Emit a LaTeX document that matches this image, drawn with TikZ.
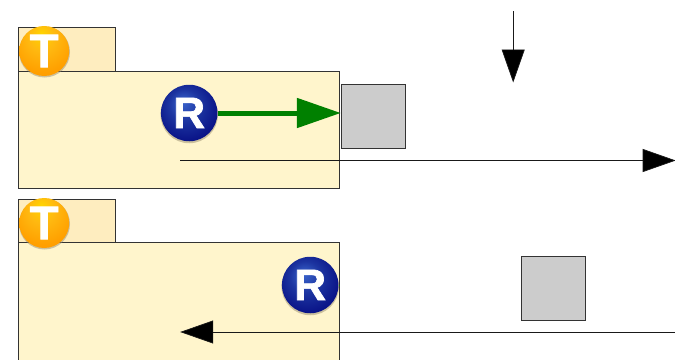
\documentclass[tikz,border=0pt]{standalone}
\usepackage{fontspec}
\setmainfont{Liberation Sans}
\newfontfamily\ballfont[FakeBold=1.6]{Liberation Sans Bold}
\usetikzlibrary{arrows.meta}
\definecolor{bodyfill}{HTML}{FFF5CC}
\definecolor{tabfill}{HTML}{FEEDBF}
\definecolor{boxgrey}{HTML}{CCCCCC}
\definecolor{arrowgreen}{HTML}{008000}
\definecolor{tballa}{HTML}{FFD400}
\definecolor{tballb}{HTML}{FFB810}
\definecolor{tballc}{HTML}{FFA000}
\definecolor{tballd}{HTML}{FF9200}
\definecolor{tballe}{HTML}{EE8400}
\definecolor{rballa}{HTML}{3A64CC}
\definecolor{rballb}{HTML}{1C34A0}
\definecolor{rballc}{HTML}{0A1488}
\definecolor{rballd}{HTML}{000878}
\definecolor{ballshadow}{HTML}{9A8F70}
\pgfdeclareradialshading{tballshade}{\pgfpoint{-3bp}{18bp}}{
  color(0bp)=(tballa);
  color(14bp)=(tballb);
  color(30bp)=(tballc);
  color(46bp)=(tballd);
  color(60bp)=(tballe)}
\pgfdeclareradialshading{rballshade}{\pgfpoint{-6bp}{10bp}}{
  color(0bp)=(rballa);
  color(14bp)=(rballb);
  color(28bp)=(rballc);
  color(46bp)=(rballd)}
\tikzset{
  x=1pt,y=-1pt,
  panelbody/.style={draw=black!80,line width=.7pt,fill=bodyfill},
  paneltab/.style={draw=black!80,line width=.7pt,fill=tabfill},
  greybox/.style={draw=black!80,line width=.7pt,fill=boxgrey},
  tball/.style={circle,inner sep=0pt,minimum size=50pt,shading=tballshade,text=white,font=\fontsize{47}{47}\ballfont},
  rball/.style={circle,inner sep=0pt,minimum size=56.5pt,shading=rballshade,text=white,font=\fontsize{44}{44}\ballfont},
  shadowdisc/.style={fill=ballshadow,opacity=.5,circle,inner sep=0pt},
  thinarrow/.style={draw=black!90,line width=.7pt,-{Triangle[length=33pt,width=23pt,fill=black]}},
  greenarrow/.style={draw=arrowgreen,line width=5pt,-{Triangle[length=44pt,width=29pt,fill=arrowgreen]}},
}
\begin{document}
\begin{tikzpicture}
\useasboundingbox (-.2,0) rectangle (674.8,359);
\clip (-.2,0) rectangle (674.8,359);
\fill[white] (-.2,0) rectangle (674.8,359);

\draw[paneltab] (18,27) rectangle (115,71);
\draw[panelbody] (18,71) rectangle (339,188.5);
\draw[paneltab] (18,199) rectangle (115,242.5);
\draw[panelbody] (18,242.5) rectangle (339,370);

\node[greybox,minimum size=64pt,inner sep=0pt] (boxa) at (373,116) {};
\node[greybox,minimum size=64pt,inner sep=0pt] (boxb) at (553,288) {};

\coordinate (downstart) at (513,11);
\coordinate (downend) at (513,82.5);
\draw[thinarrow] (downstart) -- (downend);

\coordinate (rightstart) at (180,160.5);
\coordinate (rightend) at (675.5,160.5);
\draw[thinarrow] (rightstart) -- (rightend);

\coordinate (leftstart) at (675.5,332);
\coordinate (leftend) at (180,332);
\draw[thinarrow] (leftstart) -- (leftend);

\node[shadowdisc,minimum size=51pt] (tsa) at (44.3,52) {};
\node[shadowdisc,minimum size=51pt] (tsb) at (44.3,224) {};
\node[shadowdisc,minimum size=57.5pt] (rsa) at (189,114.5) {};
\node[shadowdisc,minimum size=57.5pt] (rsb) at (310,286.5) {};

\node[tball] (ta) at (44,51) {T};
\node[tball] (tb) at (44,223) {T};

\node[rball] (ra) at (189,113) {R};
\node[rball] (rb) at (310,285) {R};

\draw[greenarrow] (ra.east) -- (ra.east -| boxa.west);
\coordinate (tickend) at (340,285);
\draw[draw=arrowgreen,line width=.8pt] (rb.east) -- (tickend);
\end{tikzpicture}
\end{document}
